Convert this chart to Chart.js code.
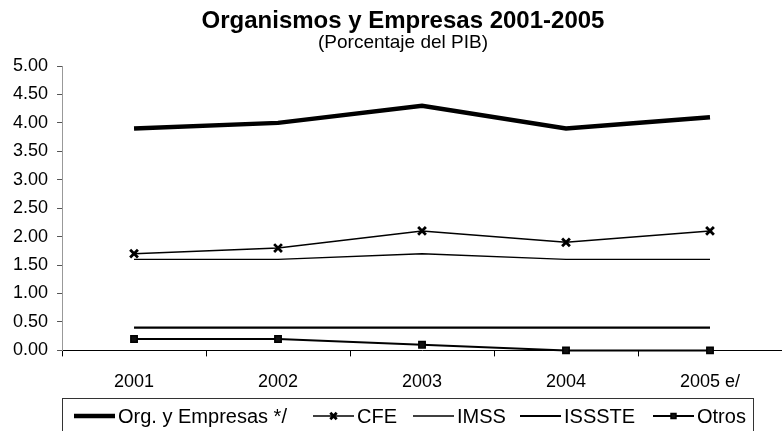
<!DOCTYPE html>
<html>
<head>
<meta charset="utf-8">
<script src="https://cdn.jsdelivr.net/npm/chart.js@4"></script>
<style>
  html, body { margin: 0; padding: 0; background: #fff; overflow: hidden; }
  #wrap { width: 782px; height: 431px; }
</style>
</head>
<body>
<div id="wrap"><canvas id="chart" width="782" height="431"></canvas></div>
<script>
const years     = ['2001', '2002', '2003', '2004', '2005 e/'];
const orgEmp    = [3.9, 4.0, 4.3, 3.9, 4.1];
const cfe       = [1.7, 1.8, 2.1, 1.9, 2.1];
const imss      = [1.6, 1.6, 1.7, 1.6, 1.6];
const issste    = [0.4, 0.4, 0.4, 0.4, 0.4];
const otros     = [0.2, 0.2, 0.1, 0.0, 0.0];
const seriesNames = ['Org. y Empresas */', 'CFE', 'IMSS', 'ISSSTE', 'Otros'];

const FONT = '"Liberation Sans", Arial, sans-serif';

// legend drawn by hand so the markers sit on the line like the original
const boxLegend = {
    id: 'boxLegend',
    afterDraw(chart) {
        const ctx = chart.ctx;
        const top = 398, left = 62, right = 753, cy = 416;
        ctx.save();
        ctx.strokeStyle = '#333';
        ctx.lineWidth = 1;
        ctx.strokeRect(left + 0.5, top + 0.5, right - left, 40);
        ctx.font = '20px ' + FONT;
        ctx.textBaseline = 'middle';
        ctx.fillStyle = '#000';
        const slots = [74, 313, 413, 520, 653];
        chart.data.datasets.forEach((ds, i) => {
            const x0 = slots[i], x1 = x0 + 41;
            ctx.strokeStyle = '#000';
            ctx.lineWidth = ds.borderWidth;
            ctx.beginPath(); ctx.moveTo(x0, cy); ctx.lineTo(x1, cy); ctx.stroke();
            if (ds.pointRadius > 0) {
                ctx.fillStyle = ds.pointBackgroundColor || '#000';
                ctx.strokeStyle = '#000';
                ctx.lineWidth = ds.pointBorderWidth;
                Chart.helpers.drawPoint(ctx, {
                    pointStyle: ds.pointStyle, radius: ds.pointRadius - 1,
                    borderWidth: ds.pointBorderWidth, rotation: 0
                }, (x0 + x1) / 2, cy);
                ctx.fillStyle = '#000';
            }
            ctx.fillText(ds.label, x1 + 3, cy + 1);
        });
        ctx.restore();
    }
};

new Chart(document.getElementById('chart'), {
    type: 'line',
    data: {
        labels: years,
        datasets: [
            { label: seriesNames[0], data: orgEmp, borderColor: '#000', borderWidth: 4.5, pointRadius: 0, tension: 0 },
            { label: seriesNames[1], data: cfe, borderColor: '#000', borderWidth: 1.5, pointStyle: 'crossRot', pointRadius: 5.5, pointBorderWidth: 2.8, pointBorderColor: '#000', tension: 0 },
            { label: seriesNames[2], data: imss, borderColor: '#000', borderWidth: 1.4, pointRadius: 0, tension: 0 },
            { label: seriesNames[3], data: issste, borderColor: '#000', borderWidth: 2.2, pointRadius: 0, tension: 0 },
            { label: seriesNames[4], data: otros, borderColor: '#000', borderWidth: 2, pointStyle: 'rect', pointRadius: 4.5, pointBorderWidth: 1.5, pointBorderColor: '#000', pointBackgroundColor: '#111', tension: 0, clip: false }
        ]
    },
    options: {
        responsive: false,
        animation: false,
        layout: { autoPadding: false, padding: { left: 4, right: -20, top: 0, bottom: 23 } },
        plugins: {
            legend: { display: false },
            tooltip: { enabled: false },
            title: { display: true, text: 'Organismos y Empresas 2001-2005', color: '#000', font: { family: FONT, size: 24, weight: 'bold', lineHeight: 1.0 }, padding: { top: 9, bottom: 0 } },
            subtitle: { display: true, text: '(Porcentaje del PIB)', color: '#000', font: { family: FONT, size: 19, lineHeight: 1.0 }, padding: { top: 0, bottom: 14 } }
        },
        scales: {
            x: {
                offset: true,
                afterFit: s => { s.paddingRight = 0; s.paddingLeft = 0; },
                grid: { offset: true, drawOnChartArea: false, drawTicks: true, tickLength: 6, color: '#000' },
                border: { color: '#000', width: 1 },
                ticks: { color: '#000', font: { family: FONT, size: 18 }, padding: 15, maxRotation: 0 }
            },
            y: {
                min: 0, max: 5,
                grid: { drawOnChartArea: false, drawTicks: true, tickLength: 5, color: '#555' },
                border: { color: '#999', dash: [2, 3], width: 1 },
                ticks: { stepSize: 0.5, color: '#000', font: { family: FONT, size: 18 }, padding: 9, callback: v => v.toFixed(2) }
            }
        }
    },
    plugins: [boxLegend]
});
</script>
</body>
</html>
